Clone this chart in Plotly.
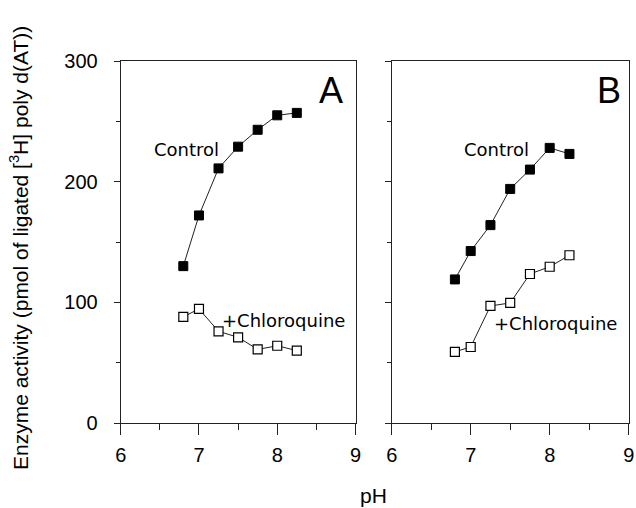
import plotly.graph_objects as go

ph = [6.8, 7.0, 7.25, 7.5, 7.75, 8.0, 8.25]
a_control = [130, 172, 211, 229, 243, 255, 257]
a_chloro = [88, 94.5, 76, 71, 61, 64, 60]
b_control = [119, 142.5, 164, 194, 210, 228, 223]
b_chloro = [59, 63, 97, 99.5, 123.5, 129.5, 139]

x_ticks = [6, 7, 8, 9]
y_ticks = [0, 100, 200, 300]

W, H = 636, 508
def px(x):
    return x / W
def py(y):
    return 1 - y / H

line_col = "#222"
fig = go.Figure()

def add_pair(ctrl, chl, xa, ya):
    fig.add_trace(go.Scatter(x=ph, y=ctrl, mode="lines+markers", xaxis=xa, yaxis=ya,
                             line=dict(color=line_col, width=1),
                             marker=dict(symbol="square", size=9, color="black",
                                         line=dict(color="black", width=1)),
                             showlegend=False))
    fig.add_trace(go.Scatter(x=ph, y=chl, mode="lines+markers", xaxis=xa, yaxis=ya,
                             line=dict(color=line_col, width=1),
                             marker=dict(symbol="square", size=9, color="white",
                                         line=dict(color="black", width=1.2)),
                             showlegend=False))

add_pair(a_control, a_chloro, "x", "y")
add_pair(b_control, b_chloro, "x2", "y2")

font = dict(family="Liberation Sans, Arial, sans-serif", size=20, color="black")

xcommon = dict(range=[6, 9], tickvals=x_ticks, ticks="outside", ticklen=11, tickwidth=1,
               tickcolor=line_col, showline=True, linecolor=line_col, linewidth=1, mirror=True,
               showgrid=False, zeroline=False, tickfont=font, automargin=False,
               ticklabelstandoff=3,
               minor=dict(dtick=0.5, ticks="outside", ticklen=6, tickcolor=line_col, showgrid=False))
ycommon = dict(range=[0, 300], tickvals=y_ticks, ticks="outside", ticklen=6, tickwidth=1,
               tickcolor=line_col, showline=True, linecolor=line_col, linewidth=1, mirror=True,
               showgrid=False, zeroline=False, tickfont=font, automargin=False,
               ticklabelstandoff=12,
               minor=dict(dtick=50, ticks="outside", ticklen=4, tickcolor=line_col, showgrid=False),
               domain=[py(423), py(61)])

fig.update_layout(
    width=W, height=H, margin=dict(l=0, r=0, t=0, b=0),
    paper_bgcolor="white", plot_bgcolor="white",
    xaxis=dict(domain=[px(120.7), px(355.5)], anchor="y", **xcommon),
    xaxis2=dict(domain=[px(391.7), px(628.7)], anchor="y2", **xcommon),
    yaxis=dict(anchor="x", **ycommon),
    yaxis2=dict(anchor="x2", showticklabels=False, **ycommon),
)

lab = dict(family="DejaVu Sans, sans-serif", size=18, color="black")
big = dict(family="Liberation Sans, Arial, sans-serif", size=36, color="black")
title_font = dict(family="Liberation Sans, Arial, sans-serif", size=21, color="black")
annots = [
    dict(text="Control", x=px(186.7), y=py(150), font=lab),
    dict(text="+Chloroquine", x=px(283), y=py(320), font=lab),
    dict(text="Control", x=px(496), y=py(150), font=lab),
    dict(text="+Chloroquine", x=px(555), y=py(323), font=lab),
    dict(text="A", x=px(331), y=py(90), font=big),
    dict(text="B", x=px(609), y=py(90.5), font=big),
    dict(text="pH", x=px(373), y=py(495), font=title_font),
    dict(text="Enzyme activity (pmol of ligated [<sup>3</sup>H] poly d(AT))", x=px(19), y=py(248),
         font=title_font, textangle=-90),
]
for a in annots:
    fig.add_annotation(xref="paper", yref="paper", showarrow=False,
                       xanchor="center", yanchor="middle", **a)

fig.write_html("out.html")
